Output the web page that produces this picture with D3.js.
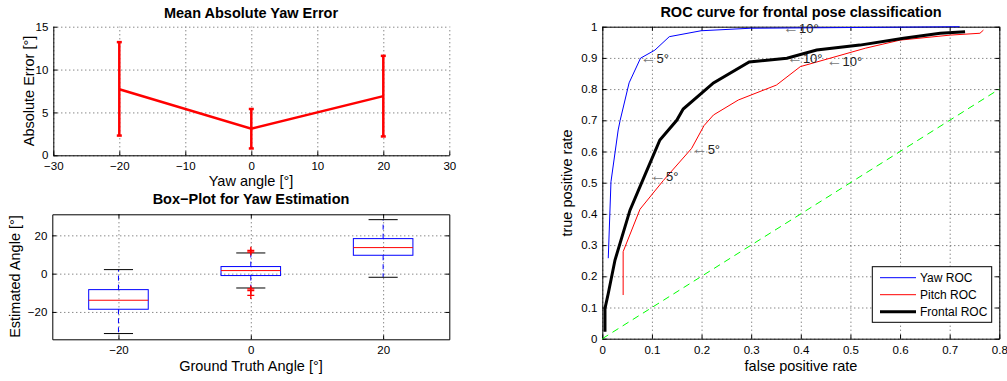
<!DOCTYPE html>
<html>
<head>
<meta charset="utf-8">
<script src="https://cdn.jsdelivr.net/npm/d3@7"></script>
<style>
body { margin: 0; background: #fff; }
svg { font-family: "Liberation Sans", Arial, Helvetica, sans-serif; }
.grid line { stroke: #555; stroke-dasharray: 1, 3; }
.grid path { display: none; }
.axis path, .axis line { stroke: #000; }
.axis text { font-size: 11.5px; fill: #000; }
.title { font-size: 14.5px; font-weight: bold; text-anchor: middle; }
.label { font-size: 14.5px; text-anchor: middle; }
.annot { font-size: 13px; fill: #222; }
</style>
</head>
<body>
<script>
// mean absolute yaw error
var yawAngles = [-20, 0, 20];
var meanErr = [7.7, 3.1, 6.9];
var errLow = [2.3, 0.8, 2.2];
var errHigh = [13.2, 5.4, 11.6];

// box plot
var boxGroups = [-20, 0, 20];
var whiskerLow = [-31.3, -7.5, -1.9];
var boxQ1 = [-18.6, -1.0, 9.6];
var boxMedian = [-13.9, 1.6, 13.6];
var boxQ3 = [-8.35, 3.7, 18.3];
var whiskerHigh = [2.1, 10.8, 28.2];
var outlierX = [0, 0, 0, 0, 0];
var outlierY = [12.2, 11.3, -8.0, -8.8, -11.4];

// ROC curves
var yawFpr = [0.012, 0.0175, 0.032, 0.036, 0.054, 0.077, 0.106, 0.135, 0.199, 0.298, 0.72];
var yawTpr = [0.258, 0.503, 0.669, 0.70, 0.82, 0.899, 0.925, 0.968, 0.987, 0.995, 1.0];
var pitchFpr = [0.042, 0.042, 0.076, 0.123, 0.18, 0.205, 0.224, 0.274, 0.351, 0.399, 0.459, 0.53, 0.6, 0.701, 0.761, 0.768];
var pitchTpr = [0.14, 0.279, 0.415, 0.507, 0.61, 0.683, 0.717, 0.765, 0.813, 0.872, 0.899, 0.931, 0.957, 0.973, 0.979, 0.989];
var frontalFpr = [0.0054, 0.0054, 0.012, 0.0256, 0.0558, 0.086, 0.116, 0.15, 0.163, 0.224, 0.296, 0.372, 0.432, 0.519, 0.607, 0.681, 0.731];
var frontalTpr = [0.022, 0.097, 0.145, 0.252, 0.412, 0.525, 0.637, 0.70, 0.736, 0.82, 0.887, 0.899, 0.925, 0.941, 0.963, 0.979, 0.984];
var annotFpr = [0.077, 0.364, 0.18, 0.452, 0.096, 0.372];
var annotTpr = [0.899, 0.995, 0.607, 0.89, 0.519, 0.899];
var annotText = ['5°', '10°', '5°', '10°', '5°', '10°'];
var legendNames = ['Yaw ROC', 'Pitch ROC', 'Frontal ROC'];

var svg = d3.select('body')
  .append('svg')
  .attr('width', 1007)
  .attr('height', 381);

function zip(a, b) {
  return a.map(function(d, i) { return [d, b[i]]; });
}

function drawFrame(x, y, xTicks, yTicks, xFmt, yFmt, boxed) {
  var x0 = x.range()[0], x1 = x.range()[1],
    yb = y.range()[0], yt = y.range()[1];
  svg.append('g')
    .attr('class', 'grid')
    .attr('transform', 'translate(0,' + yb + ')')
    .call(d3.axisBottom(x).tickValues(xTicks).tickSize(-(yb - yt)).tickFormat(''));
  svg.append('g')
    .attr('class', 'grid')
    .attr('transform', 'translate(' + x0 + ',0)')
    .call(d3.axisLeft(y).tickValues(yTicks).tickSize(-(x1 - x0)).tickFormat(''));
  svg.append('g')
    .attr('class', 'axis')
    .attr('transform', 'translate(0,' + yb + ')')
    .call(d3.axisBottom(x).tickValues(xTicks).tickSizeInner(-4).tickSizeOuter(0).tickPadding(7).tickFormat(xFmt));
  svg.append('g')
    .attr('class', 'axis')
    .attr('transform', 'translate(' + x0 + ',0)')
    .call(d3.axisLeft(y).tickValues(yTicks).tickSizeInner(-4).tickSizeOuter(0).tickPadding(5).tickFormat(yFmt));
  if (boxed) {
    svg.append('g')
      .attr('class', 'axis')
      .attr('transform', 'translate(0,' + yt + ')')
      .call(d3.axisTop(x).tickValues(xTicks).tickSizeInner(-4).tickSizeOuter(0).tickFormat(''));
    svg.append('g')
      .attr('class', 'axis')
      .attr('transform', 'translate(' + x1 + ',0)')
      .call(d3.axisRight(y).tickValues(yTicks).tickSizeInner(-4).tickSizeOuter(0).tickFormat(''));
  }
}

function addText(cls, x, y, txt, rot) {
  var t = svg.append('text').attr('class', cls).text(txt);
  if (rot) t.attr('transform', 'translate(' + x + ',' + y + ') rotate(-90)');
  else t.attr('x', x).attr('y', y);
  return t;
}

var fmtInt = d3.format('d');
var fmtDec = function(d) { return String(+d.toFixed(1)); };

// ---- panel 1: mean absolute yaw error
var x1 = d3.scaleLinear().domain([-30, 30]).range([53.3, 449.3]);
var y1 = d3.scaleLinear().domain([0, 15]).range([155.3, 26.7]);
drawFrame(x1, y1, d3.range(-30, 31, 10), [0, 5, 10, 15], fmtInt, fmtInt, false);

svg.append('path')
  .datum(zip(yawAngles, meanErr))
  .attr('fill', 'none')
  .attr('stroke', '#f00')
  .attr('stroke-width', 2.5)
  .attr('d', d3.line().x(function(d) { return x1(d[0]); }).y(function(d) { return y1(d[1]); }));

var eb = svg.selectAll('.errbar')
  .data(yawAngles)
  .enter()
  .append('g')
  .attr('class', 'errbar')
  .attr('stroke', '#f00')
  .attr('stroke-width', 2.5);
eb.append('line')
  .attr('x1', function(d) { return x1(d); })
  .attr('x2', function(d) { return x1(d); })
  .attr('y1', function(d, i) { return y1(errLow[i]); })
  .attr('y2', function(d, i) { return y1(errHigh[i]); });
eb.append('line')
  .attr('x1', function(d) { return x1(d) - 2.5; })
  .attr('x2', function(d) { return x1(d) + 2.5; })
  .attr('y1', function(d, i) { return y1(errLow[i]); })
  .attr('y2', function(d, i) { return y1(errLow[i]); });
eb.append('line')
  .attr('x1', function(d) { return x1(d) - 2.5; })
  .attr('x2', function(d) { return x1(d) + 2.5; })
  .attr('y1', function(d, i) { return y1(errHigh[i]); })
  .attr('y2', function(d, i) { return y1(errHigh[i]); });

addText('title', 251, 17.5, 'Mean Absolute Yaw Error');
addText('label', 251, 185.5, 'Yaw angle [°]');
addText('label', 33.5, 91, 'Absolute Error [°]', true);

// ---- panel 2: box plot
var x2 = d3.scaleLinear().domain([-30, 30]).range([52.3, 449.3]);
var y2 = d3.scaleLinear().domain([-34.3, 31]).range([339.3, 214.3]);
drawFrame(x2, y2, boxGroups, [-20, 0, 20], fmtInt, fmtInt, true);

var bx = svg.selectAll('.box')
  .data(boxGroups)
  .enter()
  .append('g')
  .attr('class', 'box');
bx.append('line')
  .attr('x1', function(d) { return x2(d); })
  .attr('x2', function(d) { return x2(d); })
  .attr('y1', function(d, i) { return y2(boxQ3[i]); })
  .attr('y2', function(d, i) { return y2(whiskerHigh[i]); })
  .attr('stroke', '#00f')
  .attr('stroke-dasharray', '5,4');
bx.append('line')
  .attr('x1', function(d) { return x2(d); })
  .attr('x2', function(d) { return x2(d); })
  .attr('y1', function(d, i) { return y2(boxQ1[i]); })
  .attr('y2', function(d, i) { return y2(whiskerLow[i]); })
  .attr('stroke', '#00f')
  .attr('stroke-dasharray', '5,4');
[whiskerLow, whiskerHigh].forEach(function(arr) {
  bx.append('line')
    .attr('x1', function(d) { return x2(d - 2.2); })
    .attr('x2', function(d) { return x2(d + 2.2); })
    .attr('y1', function(d, i) { return y2(arr[i]); })
    .attr('y2', function(d, i) { return y2(arr[i]); })
    .attr('stroke', '#000');
});
bx.append('rect')
  .attr('x', function(d) { return x2(d - 4.5); })
  .attr('width', function(d) { return x2(d + 4.5) - x2(d - 4.5); })
  .attr('y', function(d, i) { return y2(boxQ3[i]); })
  .attr('height', function(d, i) { return y2(boxQ1[i]) - y2(boxQ3[i]); })
  .attr('fill', 'none')
  .attr('stroke', '#00f');
bx.append('line')
  .attr('x1', function(d) { return x2(d - 4.5); })
  .attr('x2', function(d) { return x2(d + 4.5); })
  .attr('y1', function(d, i) { return y2(boxMedian[i]); })
  .attr('y2', function(d, i) { return y2(boxMedian[i]); })
  .attr('stroke', '#f00');

// '+' markers for outliers
svg.selectAll('.outlier')
  .data(zip(outlierX, outlierY))
  .enter()
  .append('path')
  .attr('class', 'outlier')
  .attr('d', 'M-3.5,0H3.5M0,-3.5V3.5')
  .attr('transform', function(d) { return 'translate(' + x2(d[0]) + ',' + y2(d[1]) + ')'; })
  .attr('stroke', '#f00')
  .attr('stroke-width', 1.3);

addText('title', 251, 204, 'Box\u2212Plot for Yaw Estimation');
addText('label', 251, 370.5, 'Ground Truth Angle [°]');
addText('label', 19.7, 276.5, 'Estimated Angle [°]', true);

// ---- panel 3: ROC
var x3 = d3.scaleLinear().domain([0, 0.8]).range([602.3, 999.3]);
var y3 = d3.scaleLinear().domain([0, 1]).range([338.7, 26.7]);
drawFrame(x3, y3, d3.range(0, 0.81, 0.1), d3.range(0, 1.01, 0.1), fmtDec, fmtDec, true);

var rocLine = d3.line()
  .x(function(d) { return x3(d[0]); })
  .y(function(d) { return y3(d[1]); });

svg.append('path')
  .datum([[0, 0], [0.8, 0.8]])
  .attr('fill', 'none')
  .attr('stroke', '#0f0')
  .attr('stroke-dasharray', '7,5')
  .attr('d', rocLine);

var rocSeries = [
  { fpr: yawFpr, tpr: yawTpr, color: '#00f', w: 1 },
  { fpr: pitchFpr, tpr: pitchTpr, color: '#f00', w: 1 },
  { fpr: frontalFpr, tpr: frontalTpr, color: '#000', w: 3 }
];
rocSeries.forEach(function(s) {
  svg.append('path')
    .datum(zip(s.fpr, s.tpr))
    .attr('fill', 'none')
    .attr('stroke', s.color)
    .attr('stroke-width', s.w)
    .attr('d', rocLine);
});

var an = svg.selectAll('.annot')
  .data(annotText)
  .enter()
  .append('text')
  .attr('class', 'annot')
  .attr('x', function(d, i) { return x3(annotFpr[i]); })
  .attr('y', function(d, i) { return y3(annotTpr[i]); })
  .attr('dy', '0.35em');
an.append('tspan').attr('fill', '#777').style('font-size', '16px').text('\u2190');
an.append('tspan').text(function(d) { return d; });

// legend
var lg = svg.append('g');
lg.append('rect')
  .attr('x', 872.3)
  .attr('y', 266.7)
  .attr('width', 119.4)
  .attr('height', 55.6)
  .attr('fill', '#fff')
  .attr('stroke', '#000');
lg.selectAll('.lg')
  .data(rocSeries)
  .enter()
  .append('line')
  .attr('x1', 880)
  .attr('x2', 916)
  .attr('y1', function(d, i) { return 277.7 + i * 17; })
  .attr('y2', function(d, i) { return 277.7 + i * 17; })
  .attr('stroke', function(d) { return d.color; })
  .attr('stroke-width', function(d) { return d.w; });
lg.selectAll('text')
  .data(legendNames)
  .enter()
  .append('text')
  .attr('x', 920)
  .attr('y', function(d, i) { return 277.7 + i * 17; })
  .attr('dy', '0.35em')
  .style('font-size', '12px')
  .text(function(d) { return d; });

addText('title', 801, 17.3, 'ROC curve for frontal pose classification');
addText('label', 801, 370.7, 'false positive rate');
addText('label', 572, 183, 'true positive rate', true);
</script>
</body>
</html>
